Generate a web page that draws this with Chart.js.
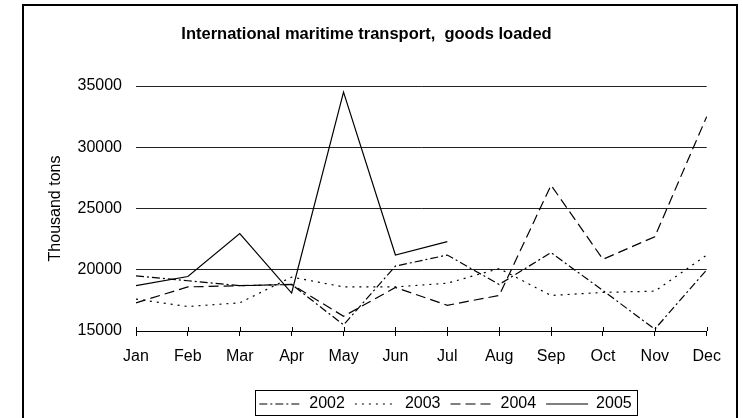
<!DOCTYPE html>
<html>
<head>
<meta charset="utf-8">
<script src="https://cdn.jsdelivr.net/npm/chart.js@4.4.1/dist/chart.umd.min.js"></script>
<style>
  html, body { margin: 0; padding: 0; background: #fff; overflow: hidden; }
  #wrap { position: relative; width: 743px; height: 418px; }
  #frame { position: absolute; left: 22px; top: 4px; width: 712px; height: 440px; border: 2px solid #000; }
  #c { position: absolute; left: 0; top: 0; }
</style>
</head>
<body>
<div id="wrap">
  <div id="frame"></div>
  <canvas id="c" width="743" height="418"></canvas>
</div>
<script>
const months = ['Jan','Feb','Mar','Apr','May','Jun','Jul','Aug','Sep','Oct','Nov','Dec'];
const yTicks = [15000, 20000, 25000, 30000, 35000];
const s2002 = [19500, 19100, 18700, 18800, 15500, 20300, 21200, 18800, 21400, 18300, 15150, 20000];
const s2003 = [17600, 17000, 17300, 19400, 18600, 18600, 18900, 20100, 17900, 18150, 18250, 21200];
const s2004 = [17300, 18600, 18700, 18800, 16200, 18550, 17100, 17900, 26900, 20850, 22700, 32500];
const s2005 = [18700, 19450, 22950, 18100, 34500, 21200, 22300, null, null, null, null, null];
const seriesNames = ['2002', '2003', '2004', '2005'];

const FONT = "'Liberation Sans', Arial, Helvetica, sans-serif";
Chart.defaults.font.family = FONT;
Chart.defaults.color = '#000';

function ds(label, data, dash) {
  return {
    label, data,
    borderColor: '#000', backgroundColor: '#000',
    borderWidth: 1.2, borderDash: dash, borderCapStyle: 'butt',
    pointRadius: 0, pointHoverRadius: 0, fill: false, tension: 0, spanGaps: false
  };
}

const helpers = {
  id: 'helpers',
  afterLayout(chart) {
    const lg = chart.legend;
    if (lg) { lg.left += 79; lg.right += 79; lg.top += 4; lg.bottom += 4; }
  },
  afterDraw(chart) {
    const ctx = chart.ctx;
    const xs = chart.scales.x;
    const b = chart.chartArea.bottom;
    ctx.save();
    ctx.strokeStyle = '#000';
    ctx.lineWidth = 1;
    ctx.setLineDash([]);
    ctx.beginPath();
    for (let i = 0; i < xs.ticks.length; i++) {
      const px = Math.round(xs.getPixelForTick(i)) + 0.5;
      ctx.moveTo(px, b - 4);
      ctx.lineTo(px, b);
    }
    ctx.stroke();
    const hb = chart.legend.legendHitBoxes;
    if (hb && hb.length) {
      let l = Infinity, r = -Infinity, t = Infinity, bt = -Infinity;
      hb.forEach(h => { l = Math.min(l, h.left); r = Math.max(r, h.left + h.width); t = Math.min(t, h.top); bt = Math.max(bt, h.top + h.height); });
      ctx.strokeRect(Math.round(l - 4) + 0.5, Math.round(t - 6) + 0.5, Math.round(r - l + 10), Math.round(bt - t + 9));
    }
    ctx.restore();
  }
};

new Chart(document.getElementById('c'), {
  type: 'line',
  data: {
    labels: months,
    datasets: [
      ds(seriesNames[0], s2002, [8, 3, 2, 3]),
      ds(seriesNames[1], s2003, [2, 5]),
      ds(seriesNames[2], s2004, [10, 5]),
      ds(seriesNames[3], s2005, [])
    ]
  },
  options: {
    responsive: false,
    animation: false,
    events: [],
    layout: { padding: { left: 0, right: 10, top: 0, bottom: 0 } },
    plugins: {
      title: {
        display: true,
        text: 'International maritime transport,  goods loaded',
        font: { size: 16.5, weight: 'bold', family: FONT },
        color: '#000',
        padding: { top: 24.1, bottom: 42.1 }
      },
      legend: {
        display: true,
        position: 'bottom',
        labels: {
          usePointStyle: true,
          pointStyle: 'line',
          pointStyleWidth: 42,
          font: { size: 16, family: FONT },
          color: '#000',
          padding: 10,
          generateLabels(chart) {
            const items = Chart.defaults.plugins.legend.labels.generateLabels(chart);
            items.forEach(it => {
              const d = chart.data.datasets[it.datasetIndex];
              it.lineDash = d.borderDash;
              it.lineWidth = d.borderWidth;
              it.strokeStyle = d.borderColor;
              it.pointStyle = 'line';
            });
            return items;
          }
        }
      },
      tooltip: { enabled: false }
    },
    scales: {
      x: {
        type: 'category',
        offset: false,
        grid: { drawOnChartArea: false, drawTicks: true, tickLength: 5, color: '#000', lineWidth: 1 },
        border: { display: true, color: '#000', width: 1 },
        ticks: { padding: 11, font: { size: 16, family: FONT }, color: '#000', maxRotation: 0, autoSkip: false },
        afterFit(s) { s.height = 51; s.paddingRight = 36.3; }
      },
      y: {
        min: yTicks[0],
        max: yTicks[yTicks.length - 1],
        afterBuildTicks(s) { s.ticks = yTicks.map(v => ({ value: v })); },
        grid: { drawTicks: false, color: '#222', lineWidth: 1 },
        border: { display: false },
        ticks: { padding: 14, font: { size: 16, family: FONT }, color: '#000', callback: v => String(v) },
        title: {
          display: true,
          text: 'Thousand tons',
          font: { size: 16, family: FONT },
          color: '#000',
          padding: { top: 46.4, bottom: 0 }
        },
        afterFit(s) { s.width = 136; }
      }
    }
  },
  plugins: [helpers]
});
</script>
</body>
</html>
